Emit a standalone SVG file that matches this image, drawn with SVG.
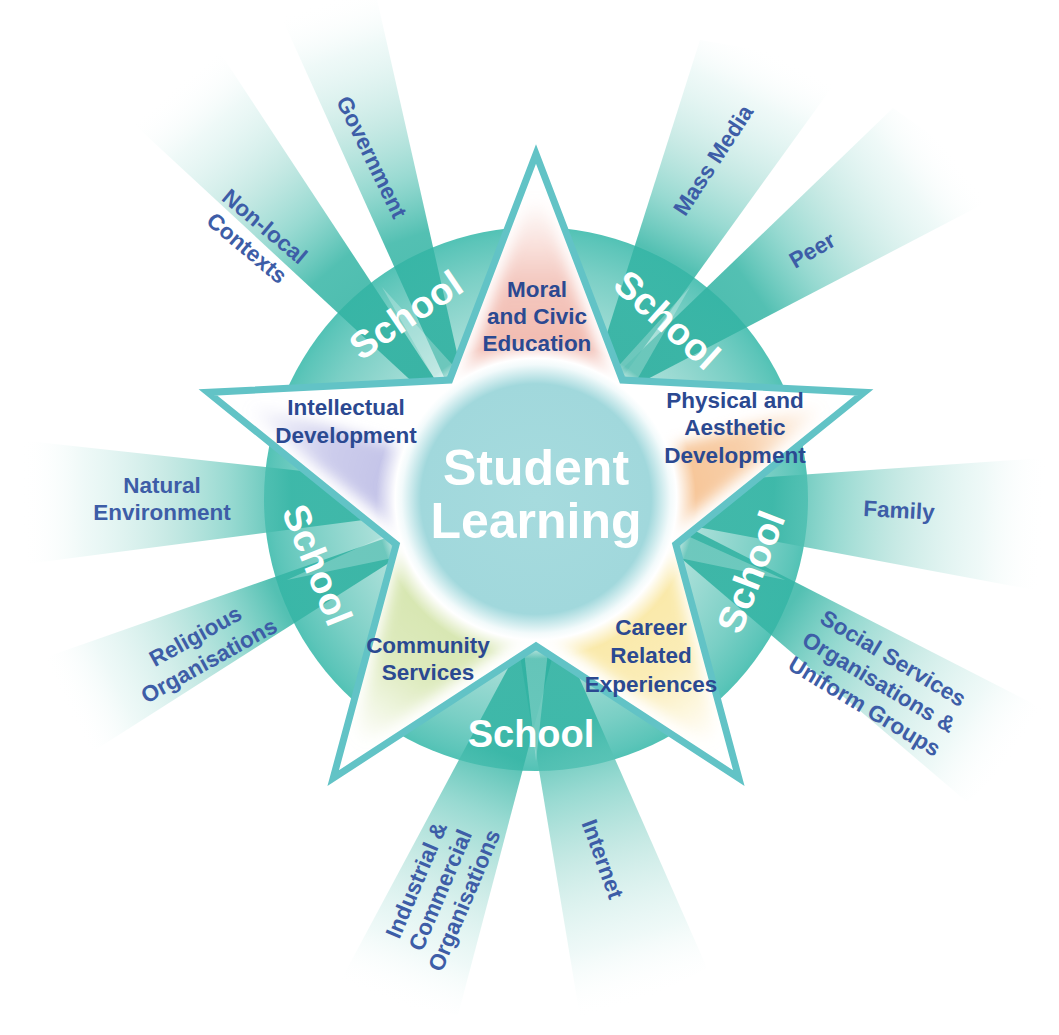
<svg xmlns="http://www.w3.org/2000/svg" xmlns:xlink="http://www.w3.org/1999/xlink" width="1059" height="1035" viewBox="0 0 1059 1035">
<style>
.lbl{font-family:"Liberation Sans",Arial,sans-serif;font-weight:bold;font-size:22.5px;text-anchor:middle;fill:#2b4991}
.blbl{font-family:"Liberation Sans",Arial,sans-serif;font-weight:bold;font-size:22.5px;text-anchor:middle;fill:#3d5da7}
.school{font-family:"Liberation Sans",Arial,sans-serif;font-weight:bold;font-size:38px;text-anchor:middle;fill:#ffffff}
.title{font-family:"Liberation Sans",Arial,sans-serif;font-weight:bold;font-size:50px;text-anchor:middle;fill:#ffffff}
.spike{fill:#ffffff;opacity:0.25}
</style>
<defs>
  <radialGradient id="ringG" gradientUnits="userSpaceOnUse" cx="536" cy="499" r="272">
    <stop offset="0.5" stop-color="#c6eae6"/>
    <stop offset="0.62" stop-color="#a6ded7"/>
    <stop offset="0.85" stop-color="#7acfc5"/>
    <stop offset="0.97" stop-color="#5cc5b9"/>
    <stop offset="1" stop-color="#52c2b5"/>
  </radialGradient>
  <linearGradient id="beamStops">
    <stop offset="0" stop-color="#26aa9a" stop-opacity="0.9"/>
    <stop offset="0.48" stop-color="#35b5a5" stop-opacity="0.85"/>
    <stop offset="0.6" stop-color="#6ccabe" stop-opacity="0.7"/>
    <stop offset="0.72" stop-color="#9ad8cf" stop-opacity="0.55"/>
    <stop offset="0.88" stop-color="#d0eeea" stop-opacity="0.35"/>
    <stop offset="1" stop-color="#ffffff" stop-opacity="0"/>
  </linearGradient>
  <linearGradient id="gb1" xlink:href="#beamStops" gradientUnits="userSpaceOnUse" x1="481" y1="459" x2="326" y2="0"/>
  <linearGradient id="gb2" xlink:href="#beamStops" gradientUnits="userSpaceOnUse" x1="475" y1="440" x2="175" y2="85"/>
  <linearGradient id="gb3" xlink:href="#beamStops" gradientUnits="userSpaceOnUse" x1="570" y1="450" x2="774" y2="52"/>
  <linearGradient id="gb4" xlink:href="#beamStops" gradientUnits="userSpaceOnUse" x1="569" y1="420" x2="951" y2="149"/>
  <linearGradient id="gb5" xlink:href="#beamStops" gradientUnits="userSpaceOnUse" x1="521" y1="494" x2="1045" y2="525"/>
  <linearGradient id="gb6" xlink:href="#beamStops" gradientUnits="userSpaceOnUse" x1="580" y1="472" x2="1012" y2="759"/>
  <linearGradient id="gb7" xlink:href="#beamStops" gradientUnits="userSpaceOnUse" x1="490" y1="475" x2="645" y2="1001"/>
  <linearGradient id="gb8" xlink:href="#beamStops" gradientUnits="userSpaceOnUse" x1="590" y1="515" x2="395" y2="1005"/>
  <linearGradient id="gb9" xlink:href="#beamStops" gradientUnits="userSpaceOnUse" x1="480" y1="505" x2="65" y2="706"/>
  <linearGradient id="gb10" xlink:href="#beamStops" gradientUnits="userSpaceOnUse" x1="540" y1="497" x2="22" y2="502"/>

  <linearGradient id="aTop" gradientUnits="userSpaceOnUse" x1="536" y1="389" x2="536" y2="199">
    <stop offset="0" stop-color="#f0b4a8"/><stop offset="0.55" stop-color="#f0b4a8" stop-opacity="0.75"/><stop offset="1" stop-color="#f0b4a8" stop-opacity="0"/>
  </linearGradient>
  <linearGradient id="aRight" gradientUnits="userSpaceOnUse" x1="640.6" y1="465" x2="821.3" y2="406.3">
    <stop offset="0" stop-color="#f6c08e"/><stop offset="0.55" stop-color="#f6c08e" stop-opacity="0.75"/><stop offset="1" stop-color="#f6c08e" stop-opacity="0"/>
  </linearGradient>
  <linearGradient id="aBR" gradientUnits="userSpaceOnUse" x1="600.7" y1="588" x2="712.3" y2="741.7">
    <stop offset="0" stop-color="#f9e7a0"/><stop offset="0.55" stop-color="#f9e7a0" stop-opacity="0.75"/><stop offset="1" stop-color="#f9e7a0" stop-opacity="0"/>
  </linearGradient>
  <linearGradient id="aBL" gradientUnits="userSpaceOnUse" x1="471.3" y1="588" x2="359.7" y2="741.7">
    <stop offset="0" stop-color="#d3e4a9"/><stop offset="0.55" stop-color="#d3e4a9" stop-opacity="0.75"/><stop offset="1" stop-color="#d3e4a9" stop-opacity="0"/>
  </linearGradient>
  <linearGradient id="aLeft" gradientUnits="userSpaceOnUse" x1="431.4" y1="465" x2="250.7" y2="406.3">
    <stop offset="0" stop-color="#bdbde6"/><stop offset="0.55" stop-color="#bdbde6" stop-opacity="0.75"/><stop offset="1" stop-color="#bdbde6" stop-opacity="0"/>
  </linearGradient>

  <radialGradient id="coreG" gradientUnits="userSpaceOnUse" cx="536" cy="499" r="160">
    <stop offset="0" stop-color="#a6dbde"/>
    <stop offset="0.72" stop-color="#a1d8dc"/>
    <stop offset="0.84" stop-color="#f2fafb"/>
    <stop offset="0.88" stop-color="#ffffff"/>
    <stop offset="1" stop-color="#ffffff" stop-opacity="0"/>
  </radialGradient>

  <filter id="soft" x="-30%" y="-30%" width="160%" height="160%">
    <feGaussianBlur stdDeviation="7"/>
  </filter>
  <clipPath id="starClip">
    <polygon points="536,154 622.4,380.1 864.1,392.4 675.8,544.4 738.8,778.1 536,646 333.2,778.1 396.2,544.4 207.9,392.4 449.6,380.1"/>
  </clipPath>
</defs>

<rect width="1059" height="1035" fill="#ffffff"/>

<g id="school-ring">
  <circle cx="536" cy="499" r="272" fill="url(#ringG)"/>
</g>

<g id="connectors">
  <polygon id="beam-government" points="481,459 276,5 376,-5" fill="url(#gb1)"/>
  <polygon id="beam-nonlocal" points="475,440 135,125 215,45" fill="url(#gb2)"/>
  <polygon id="beam-massmedia" points="570,450 700,40 848,65" fill="url(#gb3)"/>
  <polygon id="beam-peer" points="569,420 893,108 1010,190" fill="url(#gb4)"/>
  <polygon id="beam-family" points="521,494 1045,458 1045,592" fill="url(#gb5)"/>
  <polygon id="beam-social" points="580,472 1057,716 967,802" fill="url(#gb6)"/>
  <polygon id="beam-internet" points="490,475 583,1035 707,968" fill="url(#gb7)"/>
  <polygon id="beam-industrial" points="590,515 333,995 458,1015" fill="url(#gb8)"/>
  <polygon id="beam-religious" points="480,505 38,660 92,752" fill="url(#gb9)"/>
  <polygon id="beam-natural" points="540,497 18,440 26,564" fill="url(#gb10)"/>
  <polygon class="spike" points="456.3,369 436.9,383 382,287"/>
  <polygon class="spike" points="635.1,383 615.7,369 690,287"/>
  <polygon class="spike" points="676.9,557.4 684.3,534.6 785.2,580"/>
  <polygon class="spike" points="524,651 548,651 536,761"/>
  <polygon class="spike" points="387.7,534.6 395.1,557.4 286.8,580"/>
</g>

<g id="star">
  <polygon points="536,154 622.4,380.1 864.1,392.4 675.8,544.4 738.8,778.1 536,646 333.2,778.1 396.2,544.4 207.9,392.4 449.6,380.1" fill="#ffffff"/>
  <g clip-path="url(#starClip)">
    <g filter="url(#soft)">
      <polygon points="536,180 462,385 610,385" fill="url(#aTop)"/>
      <polygon points="838,400 632,458 672,530" fill="url(#aRight)"/>
      <polygon points="722,755 542,628 670,548" fill="url(#aBR)"/>
      <polygon points="350,755 402,548 530,628" fill="url(#aBL)"/>
      <polygon points="234,400 440,458 400,530" fill="url(#aLeft)"/>
    </g>
  </g>
</g>

<g id="student-learning">
  <circle cx="536" cy="499" r="160" fill="url(#coreG)"/>
  <text class="title" x="536" y="485">Student</text>
  <text class="title" x="536" y="538">Learning</text>
</g>

<g id="star-outline">
  <polygon points="536,154 622.4,380.1 864.1,392.4 675.8,544.4 738.8,778.1 536,646 333.2,778.1 396.2,544.4 207.9,392.4 449.6,380.1" fill="none" stroke="#62c3c6" stroke-width="7" stroke-linejoin="miter" stroke-miterlimit="10"/>
</g>

<g id="moral">
  <text class="lbl" x="537" y="297">Moral</text>
  <text class="lbl" x="537" y="324">and Civic</text>
  <text class="lbl" x="537" y="351">Education</text>
</g>
<g id="intellectual">
  <text class="lbl" x="346" y="415">Intellectual</text>
  <text class="lbl" x="346" y="443">Development</text>
</g>
<g id="physical">
  <text class="lbl" x="735" y="408">Physical and</text>
  <text class="lbl" x="735" y="435">Aesthetic</text>
  <text class="lbl" x="735" y="463">Development</text>
</g>
<g id="career">
  <text class="lbl" x="651" y="635">Career</text>
  <text class="lbl" x="651" y="663">Related</text>
  <text class="lbl" x="651" y="692">Experiences</text>
</g>
<g id="community">
  <text class="lbl" x="428" y="653">Community</text>
  <text class="lbl" x="428" y="680">Services</text>
</g>

<g id="school-labels">
  <text class="school" transform="translate(406,315) rotate(-34)" y="13">School</text>
  <text class="school" transform="translate(667,320) rotate(42)" y="13">School</text>
  <text class="school" transform="translate(751,572) rotate(-69)" y="13">School</text>
  <text class="school" x="531" y="747">School</text>
  <text class="school" transform="translate(317,565) rotate(68)" y="13">School</text>
</g>

<g id="government"><text class="blbl" transform="translate(372,157) rotate(64)" y="8">Government</text></g>
<g id="non-local">
  <g transform="translate(256,237) rotate(40)">
    <text class="blbl" y="-6">Non-local</text>
    <text class="blbl" y="22">Contexts</text>
  </g>
</g>
<g id="mass-media"><text class="blbl" transform="translate(713,160) rotate(-57)" y="8">Mass Media</text></g>
<g id="peer"><text class="blbl" transform="translate(812,250) rotate(-30)" y="8">Peer</text></g>
<g id="family"><text class="blbl" transform="translate(899,510) rotate(3)" y="8">Family</text></g>
<g id="social">
  <g transform="translate(879,682) rotate(31)">
    <text class="blbl" y="-20">Social Services</text>
    <text class="blbl" y="8">Organisations &amp;</text>
    <text class="blbl" y="36">Uniform Groups</text>
  </g>
</g>
<g id="internet"><text class="blbl" transform="translate(603,859) rotate(70)" y="8">Internet</text></g>
<g id="industrial">
  <g transform="translate(440,890) rotate(-67)">
    <text class="blbl" y="-18">Industrial &amp;</text>
    <text class="blbl" y="8">Commercial</text>
    <text class="blbl" y="34">Organisations</text>
  </g>
</g>
<g id="religious">
  <g transform="translate(202,648) rotate(-29)">
    <text class="blbl" y="-6">Religious</text>
    <text class="blbl" y="22">Organisations</text>
  </g>
</g>
<g id="natural">
  <text class="blbl" x="162" y="493">Natural</text>
  <text class="blbl" x="162" y="520">Environment</text>
</g>
</svg>
